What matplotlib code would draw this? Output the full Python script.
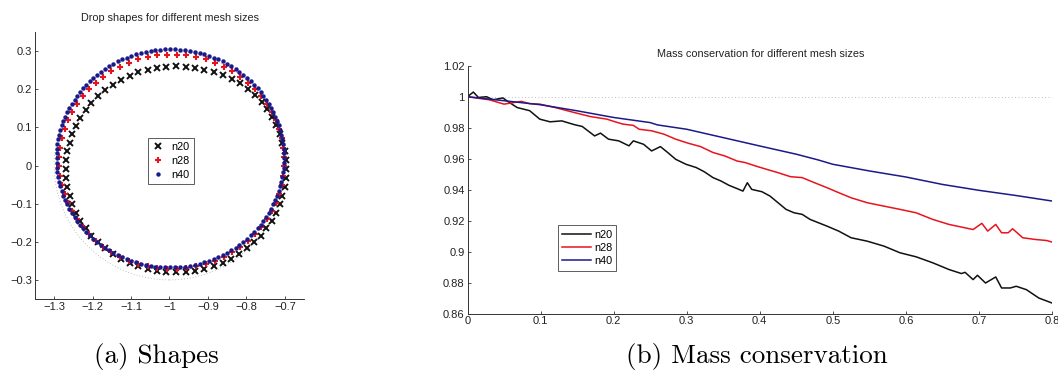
import matplotlib
matplotlib.use("Agg")
import matplotlib.pyplot as plt
from matplotlib.patches import Circle

# ---------------- data: drop shapes ----------------
n20_x = [-0.696, -0.697, -0.700, -0.706, -0.713, -0.723, -0.734, -0.746, -0.760, -0.777, -0.796, -0.816,
         -0.838, -0.862, -0.885, -0.909, -0.933, -0.958, -0.983, -1.008, -1.033, -1.057, -1.081, -1.104,
         -1.127, -1.148, -1.167, -1.186, -1.203, -1.218, -1.232, -1.243, -1.253, -1.260, -1.266, -1.269,
         -1.270, -1.269, -1.266, -1.260, -1.253, -1.243, -1.232, -1.218, -1.203, -1.186, -1.167, -1.148,
         -1.127, -1.104, -1.081, -1.057, -1.033, -1.008, -0.983, -0.958, -0.933, -0.909, -0.885, -0.862,
         -0.840, -0.818, -0.799, -0.780, -0.763, -0.748, -0.734, -0.723, -0.713, -0.706, -0.700, -0.697]
n20_y = [-0.010, 0.014, 0.037, 0.060, 0.083, 0.106, 0.127, 0.148, 0.167, 0.185, 0.201, 0.215,
         0.228, 0.237, 0.245, 0.251, 0.256, 0.259, 0.260, 0.259, 0.256, 0.251, 0.244, 0.235,
         0.224, 0.211, 0.197, 0.181, 0.164, 0.145, 0.125, 0.104, 0.082, 0.060, 0.037, 0.014,
         -0.010, -0.034, -0.057, -0.080, -0.102, -0.124, -0.145, -0.165, -0.184, -0.201, -0.217, -0.231,
         -0.244, -0.255, -0.264, -0.271, -0.276, -0.279, -0.280, -0.279, -0.276, -0.271, -0.264, -0.255,
         -0.244, -0.231, -0.217, -0.201, -0.184, -0.165, -0.145, -0.124, -0.102, -0.080, -0.057, -0.034]

n28_x = [-0.701, -0.704, -0.708, -0.715, -0.723, -0.734, -0.747, -0.762, -0.778, -0.796, -0.816, -0.837,
         -0.859, -0.882, -0.906, -0.931, -0.956, -0.981, -1.007, -1.032, -1.057, -1.082, -1.106, -1.129,
         -1.151, -1.172, -1.192, -1.210, -1.226, -1.241, -1.254, -1.265, -1.273, -1.280, -1.284, -1.287,
         -1.287, -1.284, -1.280, -1.273, -1.265, -1.254, -1.241, -1.226, -1.210, -1.192, -1.172, -1.151,
         -1.129, -1.106, -1.082, -1.057, -1.032, -1.007, -0.981, -0.956, -0.931, -0.906, -0.882, -0.859,
         -0.837, -0.816, -0.796, -0.778, -0.762, -0.747, -0.734, -0.723, -0.715, -0.708, -0.704, -0.701]
n28_y = [0.022, 0.047, 0.071, 0.095, 0.118, 0.140, 0.161, 0.181, 0.200, 0.217, 0.233, 0.247,
         0.259, 0.270, 0.278, 0.284, 0.289, 0.291, 0.291, 0.289, 0.284, 0.278, 0.270, 0.259,
         0.247, 0.233, 0.217, 0.200, 0.181, 0.161, 0.140, 0.118, 0.095, 0.071, 0.047, 0.022,
         -0.002, -0.027, -0.051, -0.075, -0.098, -0.120, -0.141, -0.161, -0.180, -0.197, -0.213, -0.227,
         -0.239, -0.250, -0.258, -0.264, -0.269, -0.271, -0.271, -0.269, -0.264, -0.258, -0.250, -0.239,
         -0.227, -0.213, -0.197, -0.180, -0.161, -0.141, -0.120, -0.098, -0.075, -0.051, -0.027, -0.002]

n40_x = [-0.702, -0.703, -0.707, -0.712, -0.720, -0.730, -0.742, -0.756, -0.771, -0.789, -0.808, -0.828,
         -0.850, -0.873, -0.897, -0.921, -0.947, -0.972, -0.998, -1.024, -1.049, -1.075, -1.099, -1.123,
         -1.146, -1.168, -1.188, -1.207, -1.225, -1.240, -1.254, -1.266, -1.276, -1.284, -1.290, -1.293,
         -1.294, -1.293, -1.290, -1.284, -1.276, -1.266, -1.254, -1.240, -1.225, -1.207, -1.188, -1.168,
         -1.146, -1.123, -1.099, -1.075, -1.049, -1.024, -0.998, -0.972, -0.947, -0.921, -0.897, -0.873,
         -0.850, -0.828, -0.808, -0.789, -0.771, -0.756, -0.742, -0.730, -0.720, -0.712, -0.707, -0.703,
         -0.702, -0.705, -0.709, -0.716, -0.725, -0.735, -0.748, -0.763, -0.780, -0.798, -0.818, -0.839,
         -0.861, -0.885, -0.909, -0.934, -0.959, -0.985, -1.011, -1.037, -1.062, -1.087, -1.111, -1.135,
         -1.157, -1.178, -1.198, -1.216, -1.233, -1.247, -1.261, -1.271, -1.280, -1.287, -1.292, -1.294,
         -1.294, -1.292, -1.287, -1.280, -1.271, -1.261, -1.247, -1.233, -1.216, -1.198, -1.178, -1.157,
         -1.135, -1.111, -1.087, -1.062, -1.037, -1.011, -0.985, -0.959, -0.934, -0.909, -0.885, -0.861,
         -0.839, -0.818, -0.798, -0.780, -0.763, -0.748, -0.735, -0.725, -0.716, -0.709, -0.705, -0.702]
n40_y = [0.019, 0.044, 0.069, 0.093, 0.117, 0.140, 0.162, 0.183, 0.203, 0.221, 0.238, 0.253,
         0.267, 0.278, 0.288, 0.295, 0.301, 0.304, 0.305, 0.304, 0.301, 0.295, 0.288, 0.278,
         0.267, 0.253, 0.238, 0.221, 0.203, 0.183, 0.162, 0.140, 0.117, 0.093, 0.069, 0.044,
         0.019, -0.006, -0.031, -0.055, -0.079, -0.102, -0.124, -0.145, -0.165, -0.183, -0.200, -0.215,
         -0.229, -0.240, -0.250, -0.257, -0.263, -0.266, -0.267, -0.266, -0.263, -0.257, -0.250, -0.240,
         -0.229, -0.215, -0.200, -0.183, -0.165, -0.145, -0.124, -0.102, -0.079, -0.055, -0.031, -0.006,
         0.032, 0.056, 0.081, 0.105, 0.128, 0.151, 0.173, 0.193, 0.212, 0.230, 0.246, 0.260,
         0.273, 0.283, 0.292, 0.298, 0.303, 0.305, 0.305, 0.303, 0.298, 0.292, 0.283, 0.273,
         0.260, 0.246, 0.230, 0.212, 0.193, 0.173, 0.151, 0.128, 0.105, 0.081, 0.056, 0.032,
         0.007, -0.018, -0.043, -0.067, -0.090, -0.113, -0.135, -0.155, -0.174, -0.192, -0.208, -0.222,
         -0.235, -0.245, -0.254, -0.260, -0.265, -0.267, -0.267, -0.265, -0.260, -0.254, -0.245, -0.235,
         -0.222, -0.208, -0.192, -0.174, -0.155, -0.135, -0.113, -0.090, -0.067, -0.043, -0.018, 0.007]

ref_center = (-1.0, 0.0)
ref_radius = 0.3

shape_xticks = [-1.3, -1.2, -1.1, -1.0, -0.9, -0.8, -0.7]
shape_xticklabels = ['\u22121.3', '\u22121.2', '\u22121.1', '\u22121', '\u22120.9', '\u22120.8', '\u22120.7']
shape_yticks = [-0.3, -0.2, -0.1, 0.0, 0.1, 0.2, 0.3]
shape_yticklabels = ['\u22120.3', '\u22120.2', '\u22120.1', '0', '0.1', '0.2', '0.3']

# ---------------- data: mass conservation ----------------
n20_t = [0.0, 0.008, 0.015, 0.026, 0.035, 0.0485, 0.055, 0.068, 0.085, 0.099, 0.113, 0.129, 0.146, 0.157,
         0.174, 0.182, 0.193, 0.207, 0.221, 0.227, 0.241, 0.252, 0.264, 0.274, 0.285, 0.299, 0.313, 0.324,
         0.336, 0.347, 0.358, 0.369, 0.377, 0.383, 0.389, 0.403, 0.414, 0.425, 0.436, 0.447, 0.458, 0.469,
         0.492, 0.508, 0.525, 0.547, 0.570, 0.592, 0.614, 0.637, 0.659, 0.676, 0.681, 0.692, 0.698, 0.709,
         0.723, 0.731, 0.743, 0.751, 0.765, 0.782, 0.800]
n20_m = [1.000, 1.003, 0.9995, 1.000, 0.998, 0.9992, 0.997, 0.993, 0.991, 0.9855, 0.9838, 0.9844, 0.982, 0.9808,
         0.9747, 0.9765, 0.9726, 0.9715, 0.9683, 0.9715, 0.9693, 0.965, 0.9678, 0.964, 0.9596, 0.9564, 0.9543, 0.9516,
         0.9478, 0.9456, 0.9428, 0.9407, 0.9391, 0.9445, 0.9402, 0.9387, 0.9359, 0.9316, 0.9273, 0.9251, 0.9241, 0.9208,
         0.9165, 0.9133, 0.909, 0.9068, 0.9036, 0.8993, 0.8967, 0.8928, 0.8885, 0.8859, 0.8867, 0.882, 0.8848, 0.8798,
         0.8837, 0.8766, 0.8766, 0.8777, 0.8755, 0.8701, 0.8669]

n28_t = [0.0, 0.01, 0.03, 0.05, 0.0736, 0.085, 0.099, 0.12, 0.146, 0.168, 0.191, 0.202, 0.213, 0.227, 0.235,
         0.252, 0.269, 0.285, 0.302, 0.319, 0.336, 0.352, 0.369, 0.380, 0.397, 0.414, 0.425, 0.442, 0.458,
         0.475, 0.492, 0.508, 0.525, 0.547, 0.570, 0.592, 0.614, 0.637, 0.659, 0.681, 0.692, 0.704, 0.712,
         0.723, 0.731, 0.740, 0.746, 0.760, 0.777, 0.793, 0.800]
n28_m = [1.000, 0.9993, 0.998, 0.9952, 0.997, 0.9955, 0.9952, 0.993, 0.9898, 0.9872, 0.9855, 0.9838, 0.9823, 0.9815, 0.979,
         0.978, 0.9758, 0.9726, 0.970, 0.9678, 0.964, 0.9618, 0.9585, 0.9575, 0.9549, 0.9525, 0.951, 0.9484, 0.9478,
         0.9445, 0.9413, 0.9381, 0.9348, 0.9316, 0.9294, 0.9273, 0.9251, 0.9208, 0.9176, 0.9154, 0.9143, 0.9183, 0.9133,
         0.9176, 0.9122, 0.9122, 0.9148, 0.909, 0.9079, 0.9072, 0.9062]

n40_t = [0.0, 0.05, 0.1, 0.15, 0.2, 0.25, 0.26, 0.3, 0.35, 0.4, 0.45, 0.48, 0.5, 0.55, 0.6, 0.65, 0.7, 0.75, 0.8]
n40_m = [1.000, 0.9974, 0.9948, 0.9909, 0.9866, 0.9833, 0.9818, 0.979, 0.9736, 0.9682, 0.9629, 0.9592, 0.9564,
         0.9521, 0.9482, 0.9434, 0.9396, 0.9363, 0.9327]

ref_mass = 1.0

mass_xticks = [0.0, 0.1, 0.2, 0.3, 0.4, 0.5, 0.6, 0.7, 0.8]
mass_xticklabels = ['0', '0.1', '0.2', '0.3', '0.4', '0.5', '0.6', '0.7', '0.8']
mass_yticks = [0.86, 0.88, 0.90, 0.92, 0.94, 0.96, 0.98, 1.00, 1.02]
mass_yticklabels = ['0.86', '0.88', '0.9', '0.92', '0.94', '0.96', '0.98', '1', '1.02']

# ---------------- styling ----------------
plt.rcParams['font.family'] = ['Liberation Sans', 'DejaVu Sans']
BLACK = '#111111'
RED = '#e8141c'
BLUE = '#1a1a8a'
FS = 8
FS_TITLE = 7.8
FS_LEG = 7.8

fig = plt.figure(figsize=(10.58, 3.86), dpi=100)
W, H = 1058.0, 386.0


def add_axes_px(x0, y0, x1, y1):
    return fig.add_axes([x0 / W, 1 - y1 / H, (x1 - x0) / W, (y1 - y0) / H])


def style(ax):
    for s in ('top', 'right'):
        ax.spines[s].set_visible(False)
    for s in ('left', 'bottom'):
        ax.spines[s].set_color('#333333')
        ax.spines[s].set_linewidth(0.7)
    ax.tick_params(direction='in', length=2.5, width=0.6, labelsize=FS, colors='#333333',
                   labelcolor='#222222', pad=2)


# ---- left: shapes ----
ax1 = add_axes_px(35, 32, 304, 299)
ax1.add_patch(Circle(ref_center, ref_radius, fill=False, ls=(0, (1, 2.5)), lw=0.6, ec='#aaaaaa'))
ax1.plot(n20_x, n20_y, ls='none', marker='x', ms=3.7, mew=1.4, color=BLACK, label='n20')
ax1.plot(n28_x, n28_y, ls='none', marker='+', ms=4.8, mew=1.5, color=RED, label='n28')
ax1.plot(n40_x, n40_y, ls='none', marker='o', ms=3.2, mew=0, color=BLUE, label='n40')
ax1.set_xlim(-1.35, -0.65)
ax1.set_ylim(-0.35, 0.35)
ax1.set_xticks(shape_xticks)
ax1.set_xticklabels(shape_xticklabels)
ax1.set_yticks(shape_yticks)
ax1.set_yticklabels(shape_yticklabels)
style(ax1)
leg1 = ax1.legend(loc='center', bbox_to_anchor=(0.506, 0.517), fontsize=FS_LEG, frameon=True,
                  fancybox=False, edgecolor='#333333', handlelength=1.0, handletextpad=0.8,
                  labelspacing=0.35, borderpad=0.4, borderaxespad=0)
leg1.get_frame().set_linewidth(0.7)
fig.text(170 / W, 1 - 18 / H, 'Drop shapes for different mesh sizes', ha='center', va='center',
         fontsize=FS_TITLE, color='#222222')

# ---- right: mass ----
ax2 = add_axes_px(467.5, 65.7, 1052, 313.7)
ax2.axhline(ref_mass, ls=(0, (1, 3)), lw=0.6, color='#aaaaaa')
ax2.plot(n20_t, n20_m, color=BLACK, lw=1.1, label='n20')
ax2.plot(n28_t, n28_m, color=RED, lw=1.1, label='n28')
ax2.plot(n40_t, n40_m, color=BLUE, lw=1.1, label='n40')
ax2.set_xlim(0, 0.8)
ax2.set_ylim(0.86, 1.02)
ax2.set_xticks(mass_xticks)
ax2.set_xticklabels(mass_xticklabels)
ax2.set_yticks(mass_yticks)
ax2.set_yticklabels(mass_yticklabels)
style(ax2)
leg2 = ax2.legend(loc='center', bbox_to_anchor=(0.205, 0.265), fontsize=FS_LEG, frameon=True,
                  fancybox=False, edgecolor='#333333', handlelength=2.6, handletextpad=0.3,
                  labelspacing=0.3, borderpad=0.4, borderaxespad=0)
leg2.get_frame().set_linewidth(0.7)
fig.text(761 / W, 1 - 54 / H, 'Mass conservation for different mesh sizes', ha='center', va='center',
         fontsize=FS_TITLE, color='#222222')

# ---- captions ----
fig.text(156 / W, 1 - 357 / H, '(a) Shapes', ha='center', va='center', fontsize=19.5,
         family=['cmr10', 'DejaVu Serif'])
fig.text(757 / W, 1 - 357 / H, '(b) Mass conservation', ha='center', va='center', fontsize=19.5,
         family=['cmr10', 'DejaVu Serif'])

fig.savefig('out.png', dpi=100)
